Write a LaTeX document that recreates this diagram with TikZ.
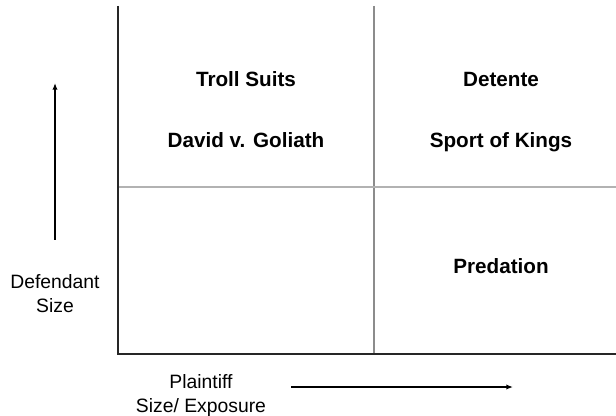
\documentclass[tikz,border=0pt]{standalone}
\usepackage{fontspec}
\setmainfont{Liberation Sans}
\usetikzlibrary{arrows.meta}

\begin{document}
\begin{tikzpicture}[x=0.75pt, y=-0.75pt,
    cell/.style={font=\fontsize{15.5}{18}\selectfont\bfseries, align=center, anchor=base, inner sep=0pt},
    axislabel/.style={font=\fontsize{14.5}{17.3}\selectfont, align=center, anchor=base, inner sep=0pt},
    axis/.style={line width=1.6pt, black!85},
    grid/.style={line width=0.8pt, black!45}]

    \useasboundingbox (0,0) rectangle (616,416);

    % Corners of the matrix
    \coordinate (top) at (118,6);
    \coordinate (origin) at (118,354);
    \coordinate (right) at (616,354);
    \coordinate (midtop) at (374,6);
    \coordinate (midbot) at (374,354);
    \coordinate (midleft) at (118,187);
    \coordinate (midright) at (616,187);

    % Grid lines
    \draw[grid] (midtop) -- (midbot);
    \draw[grid, black!30] (midleft) -- (midright);

    % Axes
    \draw[axis] (top) -- (origin) -- (right);

    % Quadrant labels
    \node[cell] (troll) at (246,87) {Troll Suits};
    \node[cell] (david) at (246,148) {David v. Goliath};
    \node[cell] (detente) at (501,87) {Detente};
    \node[cell] (kings) at (501,148) {Sport of Kings};
    \node[cell] (predation) at (501,273) {Predation};

    % Defendant size (base = last line)
    \node[axislabel] (defendant) at (55,312) {Defendant\\Size};
    \coordinate (ytail) at (55,240);
    \coordinate (yhead) at (55,83);
    \draw[-{Latex[length=5pt, width=4pt]}, line width=1.2pt] (ytail) -- (yhead);

    % Plaintiff size
    \node[axislabel] (plaintiff) at (201,412) {Plaintiff\\Size/ Exposure};
    \coordinate (xtail) at (291,387);
    \coordinate (xhead) at (513,387);
    \draw[-{Latex[length=5pt, width=4pt]}, line width=1.2pt] (xtail) -- (xhead);

\end{tikzpicture}
\end{document}
